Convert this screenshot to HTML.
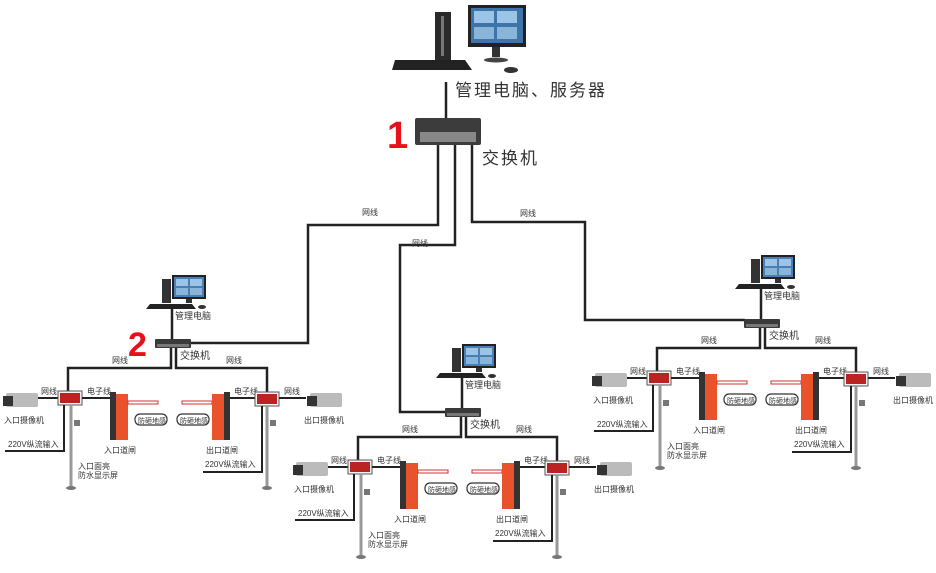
<!DOCTYPE html>
<html><head><meta charset="utf-8"><style>
html,body{margin:0;padding:0;background:#fff;}
svg{display:block;font-family:"Liberation Sans","Noto Sans CJK SC",sans-serif;}
</style></head><body>
<svg width="936" height="573" viewBox="0 0 936 573" xmlns="http://www.w3.org/2000/svg">
<defs>
<g id="pc">
  <rect x="-8" y="0" width="9" height="24" fill="#333"/>
  <rect x="2" y="-4" width="34" height="24" fill="#222"/>
  <rect x="4" y="-2" width="30" height="20" fill="#4a7fb5"/>
  <rect x="6" y="0" width="12" height="7" fill="#9cc4e6"/>
  <rect x="20" y="0" width="12" height="7" fill="#9cc4e6"/>
  <rect x="6" y="9" width="12" height="7" fill="#8ab4d8"/>
  <rect x="20" y="9" width="12" height="7" fill="#8ab4d8"/>
  <rect x="16" y="20" width="6" height="4" fill="#333"/>
  <polygon points="-20,25 22,25 26,30 -24,30" fill="#222"/>
  <ellipse cx="32" cy="28" rx="4" ry="2" fill="#333"/>
</g>
<g id="grp">
  <use href="#pc" x="170" y="279"/>
  <text x="175" y="319" font-size="9" fill="#333">管理电脑</text>
  <line x1="172" y1="309" x2="172" y2="339" stroke="#222" stroke-width="2.5"/>
  <rect x="155" y="339" width="36" height="9" rx="1" fill="#3a3a3a"/>
  <rect x="157" y="344" width="32" height="3" fill="#777"/>
  <text x="180" y="359" font-size="10" fill="#333">交换机</text>
  <polyline points="171,348 171,368 68,368 68,391" fill="none" stroke="#222" stroke-width="2.5"/>
  <polyline points="176,348 176,368 267,368 267,392" fill="none" stroke="#222" stroke-width="2.5"/>
  <text x="112" y="363" font-size="8" fill="#333">网线</text>
  <text x="226" y="363" font-size="8" fill="#333">网线</text>
  <rect x="6" y="393" width="32" height="14" rx="2" fill="#bbb"/>
  <rect x="3" y="396" width="10" height="10" fill="#333"/>
  <line x1="38" y1="398" x2="58" y2="398" stroke="#222" stroke-width="2"/>
  <text x="41" y="394" font-size="8" fill="#333">网线</text>
  <text x="4" y="423" font-size="8" fill="#333">入口摄像机</text>
  <rect x="58" y="391" width="24" height="14" fill="#f4f4f4" stroke="#555" stroke-width="1"/>
  <rect x="60" y="393" width="20" height="10" fill="#b22"/>
  <line x1="71" y1="405" x2="71" y2="487" stroke="#999" stroke-width="3"/>
  <ellipse cx="71" cy="488" rx="5" ry="2" fill="#777"/>
  <rect x="74" y="420" width="6" height="6" fill="#777"/>
  <line x1="82" y1="398" x2="110" y2="398" stroke="#222" stroke-width="2"/>
  <text x="87" y="394" font-size="8" fill="#333">电子线</text>
  <polyline points="5,451 64,451 64,405" fill="none" stroke="#222" stroke-width="2"/>
  <text x="8" y="447" font-size="8" fill="#333">220V纵流输入</text>
  <text x="78" y="469" font-size="8" fill="#333">入口面亮</text>
  <text x="78" y="478" font-size="8" fill="#333">防水显示屏</text>
  <rect x="110" y="392" width="6" height="48" fill="#333"/>
  <rect x="116" y="394" width="12" height="46" fill="#e9532b"/>
  <rect x="128" y="401" width="30" height="3" fill="#fff" stroke="#c33" stroke-width="1"/>
  <rect x="135" y="414" width="32" height="11" rx="5" fill="#fff" stroke="#333" stroke-width="1.2"/>
  <text x="138" y="423" font-size="7" fill="#333">防砸地感</text>
  <text x="104" y="453" font-size="8" fill="#333">入口道闸</text>
  <rect x="177" y="414" width="32" height="11" rx="5" fill="#fff" stroke="#333" stroke-width="1.2"/>
  <text x="180" y="423" font-size="7" fill="#333">防砸地感</text>
  <rect x="182" y="401" width="30" height="3" fill="#fff" stroke="#c33" stroke-width="1"/>
  <rect x="212" y="394" width="12" height="46" fill="#e9532b"/>
  <rect x="224" y="392" width="6" height="48" fill="#333"/>
  <text x="206" y="453" font-size="8" fill="#333">出口道闸</text>
  <line x1="230" y1="398" x2="255" y2="398" stroke="#222" stroke-width="2"/>
  <text x="234" y="394" font-size="8" fill="#333">电子线</text>
  <rect x="255" y="392" width="24" height="14" fill="#f4f4f4" stroke="#555" stroke-width="1"/>
  <rect x="257" y="394" width="20" height="10" fill="#b22"/>
  <line x1="267" y1="406" x2="267" y2="487" stroke="#999" stroke-width="3"/>
  <ellipse cx="267" cy="488" rx="5" ry="2" fill="#777"/>
  <rect x="270" y="420" width="6" height="6" fill="#777"/>
  <polyline points="203,472 262,472 262,406" fill="none" stroke="#222" stroke-width="2"/>
  <text x="205" y="467" font-size="8" fill="#333">220V纵流输入</text>
  <line x1="279" y1="398" x2="306" y2="398" stroke="#222" stroke-width="2"/>
  <text x="284" y="394" font-size="8" fill="#333">网线</text>
  <rect x="310" y="393" width="32" height="14" rx="2" fill="#bbb"/>
  <rect x="307" y="396" width="10" height="10" fill="#333"/>
  <text x="304" y="423" font-size="8" fill="#333">出口摄像机</text>
</g>
</defs>

<!-- top PC -->
<rect x="435" y="12" width="16" height="48" fill="#2a2a2a"/>
<rect x="441" y="16" width="3" height="40" fill="#777"/>
<rect x="468" y="5" width="58" height="42" fill="#222"/>
<rect x="471" y="8" width="52" height="35" fill="#3f74ab"/>
<rect x="474" y="11" width="20" height="12" fill="#9cc4e6"/>
<rect x="497" y="11" width="20" height="12" fill="#9cc4e6"/>
<rect x="474" y="27" width="20" height="12" fill="#8ab4d8"/>
<rect x="497" y="27" width="20" height="12" fill="#8ab4d8"/>
<rect x="492" y="47" width="8" height="10" fill="#333"/>
<ellipse cx="496" cy="60" rx="12" ry="2.5" fill="#444"/>
<polygon points="395,60 465,60 472,70 392,70" fill="#222"/>
<ellipse cx="511" cy="70" rx="7" ry="3" fill="#333"/>
<line x1="446" y1="82" x2="446" y2="118" stroke="#222" stroke-width="2.5"/>
<text x="455" y="96" font-size="17" fill="#333" letter-spacing="2">管理电脑、服务器</text>
<rect x="415" y="118" width="66" height="27" rx="2" fill="#3c3c3c"/>
<rect x="420" y="132" width="56" height="10" fill="#888"/>
<text x="482" y="164" font-size="17" fill="#333" letter-spacing="2">交换机</text>
<text x="387" y="148" font-size="38" font-weight="bold" fill="#e8101a">1</text>
<text x="128" y="356" font-size="34" font-weight="bold" fill="#e8101a">2</text>

<polyline points="438,145 438,225 308,225 308,343 190,343" fill="none" stroke="#222" stroke-width="2.5"/>
<polyline points="455,145 455,245 400,245 400,412 446,412" fill="none" stroke="#222" stroke-width="2.5"/>
<polyline points="472,145 472,222 585,222 585,320 745,320" fill="none" stroke="#222" stroke-width="2.5"/>
<text x="362" y="215" font-size="8" fill="#333">网线</text>
<text x="412" y="246" font-size="8" fill="#333">网线</text>
<text x="520" y="216" font-size="8" fill="#333">网线</text>

<use href="#grp"/>
<g transform="translate(290,69)"><use href="#grp"/></g>
<g transform="translate(589,-20)"><use href="#grp"/></g>
</svg>
</body></html>
